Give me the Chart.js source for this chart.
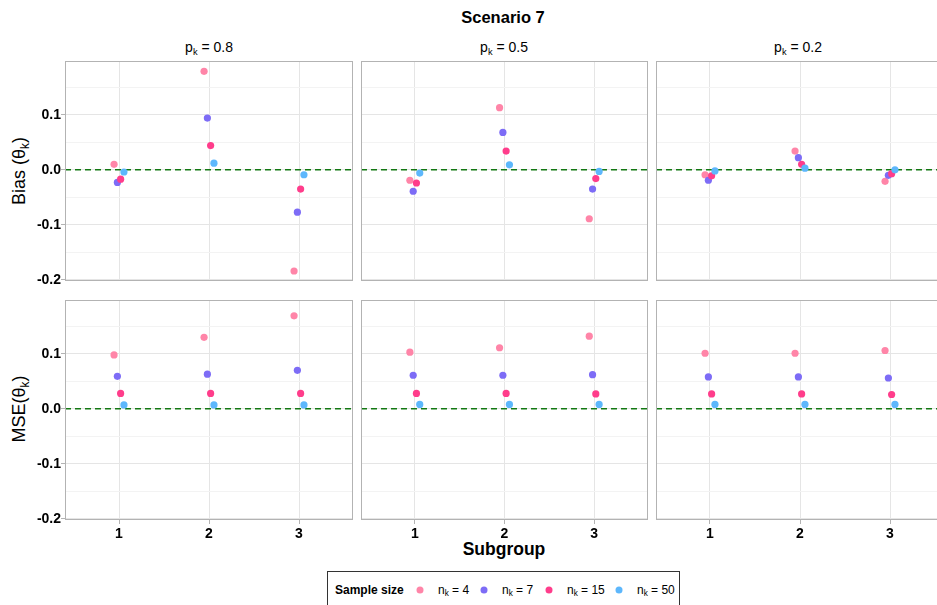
<!DOCTYPE html>
<html><head><meta charset="utf-8">
<script src="https://cdn.jsdelivr.net/npm/chart.js@4/dist/chart.umd.min.js"></script>
<style>
body{margin:0;background:#fff;font-family:"Liberation Sans",Arial,Helvetica,sans-serif;}
#wrap{position:relative;width:937px;height:605px;overflow:hidden;background:#fff}
canvas{position:absolute}
.t{position:absolute;white-space:nowrap;color:#000;transform:translate(-50%,-50%);line-height:1}
.t sub{font-size:0.66em;vertical-align:-0.3em;line-height:0}
.rot{transform:translate(-50%,-50%) rotate(-90deg)}
#legend{position:absolute;left:327px;top:571px;width:353px;height:44px;border:1px solid #333;box-sizing:border-box;background:#fff}
.li{position:absolute;font-size:12px;line-height:1;white-space:nowrap;color:#000;transform:translateY(-50%)}
.li sub{font-size:0.68em;vertical-align:-0.3em;line-height:0}
.dot{position:absolute;width:7px;height:7px;border-radius:50%;transform:translate(-50%,-50%)}
</style></head><body><div id="wrap">
<div class="t" style="left:503px;top:17px;font-size:16.5px;font-weight:bold">Scenario 7</div>
<div class="t" id="s0" style="left:209px;top:47px;font-size:14px"></div>
<div class="t" id="s1" style="left:504px;top:47px;font-size:14px"></div>
<div class="t" id="s2" style="left:798px;top:47px;font-size:14px"></div>
<div class="t rot" style="left:19px;top:171px;font-size:18px">Bias (θ<sub>k</sub>)</div>
<div class="t rot" style="left:19px;top:409px;font-size:18px">MSE(θ<sub>k</sub>)</div>
<div class="t" style="left:504px;top:550px;font-size:17.5px;font-weight:bold">Subgroup</div>
<div id="legend"></div>
</div>
<script>
// ---------- data ----------
const subgroups = [1, 2, 3];
const pLabels = ['0.8', '0.5', '0.2'];
const sampleSizes = ['4', '7', '15', '50'];
const yTicks = [-0.2, -0.15, -0.1, -0.05, 0, 0.05, 0.1, 0.15];
// each array: [p=0.8, p=0.5, p=0.2] x [subgroup 1, 2, 3]
const bias_n4  = [[0.010, 0.179, -0.184], [-0.019, 0.113, -0.089], [-0.009, 0.034, -0.021]];
const bias_n7  = [[-0.023, 0.094, -0.077], [-0.039, 0.068, -0.035], [-0.019, 0.022, -0.010]];
const bias_n15 = [[-0.017, 0.044, -0.035], [-0.024, 0.034, -0.016], [-0.011, 0.010, -0.007]];
const bias_n50 = [[-0.004, 0.012, -0.009], [-0.006, 0.009, -0.003], [-0.002, 0.003, 0.000]];
const mse_n4   = [[0.098, 0.130, 0.169], [0.103, 0.111, 0.132], [0.101, 0.101, 0.106]];
const mse_n7   = [[0.059, 0.063, 0.070], [0.061, 0.061, 0.062], [0.058, 0.058, 0.056]];
const mse_n15  = [[0.028, 0.028, 0.028], [0.028, 0.028, 0.027], [0.027, 0.027, 0.026]];
const mse_n50  = [[0.007, 0.007, 0.007], [0.008, 0.008, 0.008], [0.008, 0.008, 0.008]];

// ---------- styling / layout ----------
const biasSeries = [bias_n4, bias_n7, bias_n15, bias_n50];
const mseSeries = [mse_n4, mse_n7, mse_n15, mse_n50];
const colors = ['#FF85A8', '#7D6CF6', '#FF3D8B', '#5DB7FC'];
const dodge = [-0.055, -0.018, 0.018, 0.055];
const panelLeft = [65, 361, 656];
const panelW = [288, 287, 288];
const panelTop = [61, 300];
const panelH = 220;
const yMin = -0.2022, yMax = 0.1978;
const FONT = '"Liberation Sans", Arial, Helvetica, sans-serif';
const wrap = document.getElementById('wrap');

pLabels.forEach((p, i) => { document.getElementById('s' + i).innerHTML = 'p<sub>k</sub> = ' + p; });

// legend
const lg = document.getElementById('legend');
lg.innerHTML = '<div class="li" style="left:7px;top:18px;font-weight:bold">Sample size</div>';
const dotX = [92, 156, 221, 291];
sampleSizes.forEach((n, i) => {
  lg.innerHTML += '<div class="dot" style="left:' + dotX[i] + 'px;top:18px;background:' + colors[i] + '"></div>' +
    '<div class="li" style="left:' + (dotX[i] + 18) + 'px;top:18px">n<sub>k</sub> = ' + n + '</div>';
});

const isMajor = v => Math.abs(Math.round(v * 10) - v * 10) < 1e-6;
const zeroPad = s => { s.paddingTop = 0; s.paddingBottom = 0; s.paddingLeft = 0; s.paddingRight = 0; };

const borderPlugin = {
  id: 'panelBorder',
  afterDraw(ch) {
    const a = ch.chartArea, ctx = ch.ctx;
    ctx.save();
    ctx.strokeStyle = '#B3B3B3';
    ctx.lineWidth = 1;
    ctx.strokeRect(Math.round(a.left) + 0.5, Math.round(a.top) + 0.5,
      Math.round(a.right - a.left) - 1, Math.round(a.bottom - a.top) - 1);
    ctx.restore();
  }
};

function makePanel(row, col) {
  const isLeft = col === 0, isBottom = row === 1;
  const axW = isLeft ? 50 : 0, axH = isBottom ? 32 : 8;
  const w = panelW[col] + axW, h = panelH + axH;
  const c = document.createElement('canvas');
  c.width = w; c.height = h;
  c.style.left = (panelLeft[col] - axW) + 'px';
  c.style.top = panelTop[row] + 'px';
  c.style.width = w + 'px'; c.style.height = h + 'px';
  wrap.appendChild(c);
  const src = row === 0 ? biasSeries : mseSeries;
  const datasets = sampleSizes.map((n, i) => ({
    label: 'n_k = ' + n,
    data: subgroups.map((s, j) => ({ x: s + dodge[i], y: src[i][col][j] })),
    backgroundColor: colors[i],
    borderWidth: 0,
    pointRadius: 3.6,
    order: 3 - i
  }));
  datasets.push({
    label: 'zero',
    data: [{ x: 0.4, y: 0 }, { x: 3.6, y: 0 }],
    showLine: true,
    borderColor: '#137813',
    borderWidth: 1.4,
    borderDash: [6, 4],
    pointRadius: 0,
    order: 10
  });
  new Chart(c, {
    type: 'scatter',
    data: { datasets },
    plugins: [borderPlugin],
    options: {
      responsive: false,
      devicePixelRatio: 1,
      animation: false,
      events: [],
      layout: { padding: 0, autoPadding: false },
      plugins: { legend: { display: false }, tooltip: { enabled: false } },
      scales: {
        x: {
          type: 'linear', min: 0.4, max: 3.6,
          afterBuildTicks: s => { s.ticks = subgroups.map(v => ({ value: v })); },
          afterFit: s => { s.height = axH; zeroPad(s); },
          border: { display: false },
          grid: { color: '#E5E5E5', lineWidth: 1, drawTicks: isBottom, tickLength: 4, tickColor: '#B3B3B3' },
          ticks: {
            display: isBottom, padding: 2, autoSkip: false, maxRotation: 0,
            color: '#000', font: { family: FONT, size: 14, weight: 'bold' },
            callback: v => String(v)
          }
        },
        y: {
          type: 'linear', min: yMin, max: yMax,
          afterBuildTicks: s => { s.ticks = yTicks.map(v => ({ value: v })); },
          afterFit: s => { s.width = axW; zeroPad(s); },
          border: { display: false },
          grid: {
            color: ctx => (ctx.tick && isMajor(ctx.tick.value)) ? '#E5E5E5' : '#F3F3F3',
            lineWidth: 1, drawTicks: isLeft, tickLength: 4,
            tickColor: ctx => (ctx.tick && isMajor(ctx.tick.value)) ? '#B3B3B3' : 'rgba(0,0,0,0)'
          },
          ticks: {
            display: isLeft, padding: 0, autoSkip: false,
            color: '#000', font: { family: FONT, size: 14, weight: 'bold' },
            callback: v => isMajor(v) ? Number(v).toFixed(1) : ''
          }
        }
      }
    }
  });
}

for (let r = 0; r < 2; r++) for (let c = 0; c < 3; c++) makePanel(r, c);
</script>
</body></html>
